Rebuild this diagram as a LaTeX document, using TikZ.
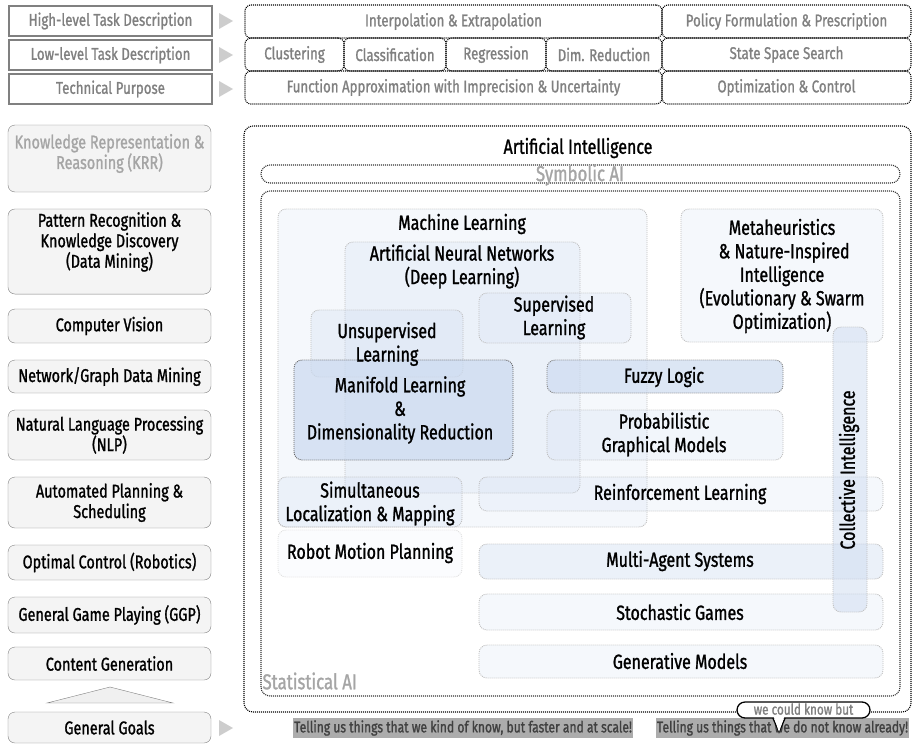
\documentclass[tikz,border=0pt]{standalone}
\usepackage{fontspec}
\setmainfont[FakeStretch=0.78,FakeBold=1.2]{Fira Sans}
\usepackage{xcolor}
\usepackage{tikz}
\usetikzlibrary{shapes,positioning,calc}

\definecolor{paleblue}{RGB}{205,219,240}
\definecolor{linegray}{RGB}{128,128,128}
\definecolor{faintgray}{RGB}{165,165,165}
\definecolor{markgray}{RGB}{172,172,172}
\definecolor{tipgray}{RGB}{205,205,205}

\begin{document}
\begin{tikzpicture}[x=1pt,y=-1pt,
  dots/.style={dash pattern=on 1pt off 1pt,line width=1.1pt},
  topbox/.style={draw=linegray,line width=1.6pt,fill=white,text=linegray,minimum width=203,minimum height=30,font=\fontsize{17}{19}\selectfont},
  task/.style={draw=black,dots,rounded corners=6,minimum height=33,text=linegray,font=\fontsize{17}{19}\selectfont},
  goal/.style={draw=linegray,rounded corners=7,fill=gray!9,minimum width=203,align=center,font=\fontsize{18.5}{20.5}\selectfont},
  region/.style={draw=gray!50,dots,line width=0.9pt,rounded corners=8,fill=paleblue},
  outer/.style={draw=black,dots,rounded corners=9},
  lbl/.style={align=center,font=\fontsize{20.5}{23.5}\selectfont},
  hilite/.style={fill=markgray,text=black!75,inner sep=1pt,minimum height=20,font=\fontsize{15.5}{17}\selectfont}]
\useasboundingbox (0,0) rectangle (912,744);
% Task description rows
\node[topbox] (high) at (110.5,21) {High-level Task Description};
\node[topbox] (low) at (110.5,55) {Low-level Task Description};
\node[topbox] (tech) at (110.5,89) {Technical Purpose};
\foreach \y in {21,55,89,728}
  \fill[tipgray] (219,\y-8) -- (233,\y) -- (219,\y+8) -- cycle;
\node[task,minimum width=417] (interp) at (453.5,21.5) {Interpolation \& Extrapolation};
\node[task,minimum width=249] (policy) at (786.5,21.5) {Policy Formulation \& Prescription};
\node[task,minimum width=99] (clust) at (294.5,54.5) {Clustering};
\node[task,minimum width=102] (class) at (395,54.5) {Classification};
\node[task,minimum width=100] (regr) at (496,54.5) {Regression};
\node[task,minimum width=116] (dimred) at (604,54.5) {Dim. Reduction};
\node[task,minimum width=249] (search) at (786.5,54.5) {State Space Search};
\node[task,minimum width=417] (funcapp) at (453.5,87.5) {Function Approximation with Imprecision \& Uncertainty};
\node[task,minimum width=249] (optim) at (786.5,87.5) {Optimization \& Control};
% General goals column
\node[goal,minimum height=67,text depth=14,text=faintgray] (krr) at (109.5,158.5) {Knowledge Representation \&\\Reasoning (KRR)};
\node[goal,minimum height=83,text depth=23] (patt) at (109.5,251.5) {Pattern Recognition \&\\Knowledge Discovery\\(Data Mining)};
\node[goal,minimum height=34] (cv) at (109.5,326) {Computer Vision};
\node[goal,minimum height=33] (graph) at (109.5,376.5) {Network/Graph Data Mining};
\node[goal,minimum height=50] (nlp) at (109.5,435) {Natural Language Processing\\(NLP)};
\node[goal,minimum height=51] (plan) at (109.5,502.5) {Automated Planning \&\\Scheduling};
\node[goal,minimum height=35] (ctrl) at (109.5,562.5) {Optimal Control (Robotics)};
\node[goal,minimum height=36] (ggp) at (109.5,615) {General Game Playing (GGP)};
\node[goal,minimum height=33] (content) at (109.5,663.5) {Content Generation};
\filldraw[draw=linegray,fill=gray!12] (47,703) -- (110,687) -- (173,703) -- cycle;
\node[goal,minimum height=31] (goals) at (109.5,727.5) {General Goals};
% AI and its two halves
\draw[outer] (244,126) rectangle (911,712);
\node[lbl] (ai) at (578,148) {Artificial Intelligence};
\draw[outer,draw=black!80] (261,165) rectangle (900,183);
\node[lbl,text=faintgray,font=\fontsize{21.5}{24}\selectfont] (symb) at (580,175) {Symbolic AI};
\draw[outer,draw=black!80] (261,191) rectangle (900,696);
\node[lbl,text=faintgray,anchor=west,font=\fontsize{21.5}{24}\selectfont] (stat) at (259,681) {Statistical AI};
% Fields
\draw[region,fill opacity=0.2] (278,209) rectangle (647,527);
\draw[region,fill opacity=0.25] (345,242) rectangle (580,493);
\draw[region,fill opacity=0.2] (479,293) rectangle (631,343);
\draw[region,fill opacity=0.3] (311,310) rectangle (463,377);
\draw[region,draw=black!60,fill opacity=0.75] (294,360) rectangle (513,460);
\draw[region,draw=black!50,fill opacity=0.7] (547,360) rectangle (783,393);
\draw[region,fill opacity=0.25] (547,410) rectangle (783,460);
\draw[region,fill opacity=0.2] (681,209) rectangle (883,342);
\draw[region,fill opacity=0.25] (278,477) rectangle (462,527);
\draw[region,draw=gray!25,fill opacity=0.08] (278,530) rectangle (462,577);
\draw[region,fill opacity=0.2] (479,477) rectangle (883,511);
\draw[region,fill opacity=0.4] (479,544) rectangle (883,579);
\draw[region,fill opacity=0.2] (479,594) rectangle (883,630);
\draw[region,fill opacity=0.2] (479,645) rectangle (883,678);
\draw[region,fill opacity=0.5] (833,327) rectangle (867,612);
\node[lbl] (ml) at (462,224) {Machine Learning};
\node[lbl] (ann) at (462,266.5) {Artificial Neural Networks\\(Deep Learning)};
\node[lbl] (sup) at (554,317.5) {Supervised\\Learning};
\node[lbl] (unsup) at (387,344) {Unsupervised\\Learning};
\node[lbl] (manif) at (400,410) {Manifold Learning\\\&\\Dimensionality Reduction};
\node[lbl] (fuzzy) at (664,377) {Fuzzy Logic};
\node[lbl] (pgm) at (664,434.5) {Probabilistic\\Graphical Models};
\node[lbl] (meta) at (782,276) {Metaheuristics\\\ \& Nature-Inspired\\Intelligence\\(Evolutionary \& Swarm\\Optimization)};
\node[lbl,rotate=90] (coll) at (849,470) {Collective Intelligence};
\node[lbl] (slam) at (370,503.5) {Simultaneous\\Localization \& Mapping};
\node[lbl] (robot) at (370,553) {Robot Motion Planning};
\node[lbl] (rl) at (680,494) {Reinforcement Learning};
\node[lbl] (mas) at (680,561) {Multi-Agent Systems};
\node[lbl] (games) at (680,612) {Stochastic Games};
\node[lbl] (gen) at (680,661) {Generative Models};
% What it tells us
\node[hilite,minimum width=338] (known) at (463,728) {Telling us things that we kind of know, but faster and at scale!};
\node[hilite,minimum width=251] (unknown) at (782.5,728) {Telling us things that we do not know already!};
\coordinate (tip) at (779,732);
\filldraw[fill=white,draw=black,line width=1.3pt] (772,716) -- (tip) -- (786,716);
\node[draw=black,line width=1.3pt,fill=white,rounded corners=8,minimum width=133,minimum height=16,inner sep=0pt,text=linegray,font=\fontsize{15}{15}\selectfont] (bubble) at (803.5,710) {\raisebox{2pt}{we could know but}};
\fill[white] (773.5,716) -- (tip) -- (784.5,716) -- cycle;
\end{tikzpicture}
\end{document}
